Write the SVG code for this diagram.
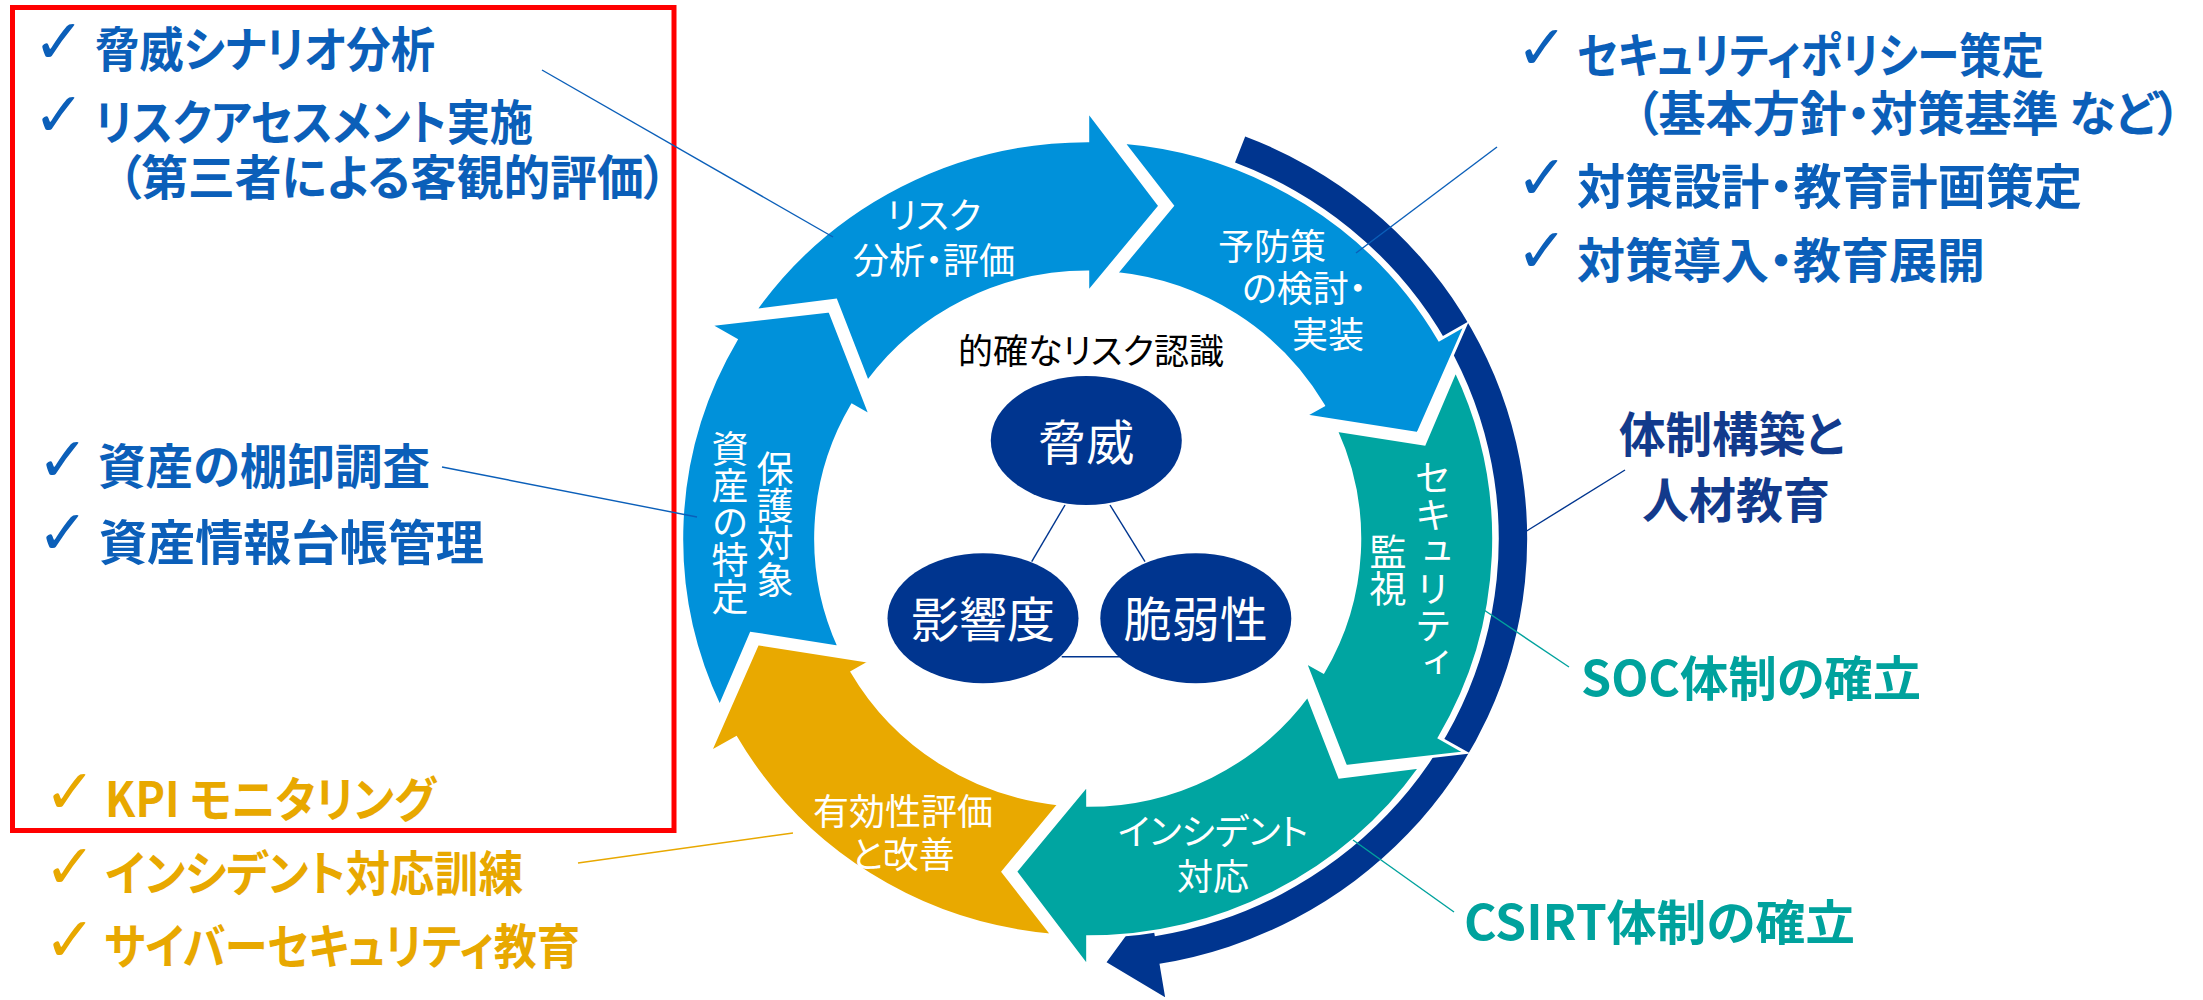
<svg xmlns="http://www.w3.org/2000/svg" width="2203" height="1000" viewBox="0 0 2203 1000">
<style>
text{font-family:"Noto Sans CJK JP","Noto Sans",sans-serif;font-feature-settings:"palt" 1;}
.b{font-weight:700;font-size:48px}
.blue{fill:#0B5FB9}
.gold{fill:#E8A800}
.teal{fill:#00A29D}
.navy{fill:#123A8C}
.ck{font-family:"DejaVu Sans",sans-serif;font-size:62px;font-weight:400;font-feature-settings:normal}
.rt{fill:#fff;font-size:36px}
.rv{fill:#fff;font-size:37px;writing-mode:vertical-rl}
.seg{stroke:#fff;stroke-width:3;stroke-linejoin:miter}
.lb{fill:#0091DA}.tl{fill:#00A5A1}.gd{fill:#E9A900}
.ell{fill:#00358F}
.et{fill:#fff;font-size:48px;text-anchor:middle}
.ln{stroke-width:1.4;fill:none}
</style>
<rect id="focus-box" x="12.5" y="7.5" width="661.5" height="823" fill="none" stroke="#FF0000" stroke-width="5"/>
<g id="ring" transform="translate(1087.7,538.7) scale(1.015,0.995)">
  <g id="org-arrow"><path fill="#00358F" d="M 145.14 -378.10 L 155.17 -404.24 A 433 433 0 0 1 70.72 427.18 L 76.28 460.73 L 18.58 425.60 L 60.76 367.0 L 66.15 399.56 A 405 405 0 0 0 145.14 -378.10 Z"/></g>
  <g id="seg-risk"><path class="seg lb" d="M -327.66 -229.43 A 400 400 0 0 1 0 -400 L 0 -430 L 71.11 -334.53 L 0 -247 L 0 -268 A 268 268 0 0 0 -216.82 -157.53 L -248.17 -239.66 Z"/></g>
  <g id="seg-prevent"><path class="seg lb" d="M 34.86 -398.48 A 400 400 0 0 1 346.41 -200 L 372.39 -215 L 325.26 -105.68 L 213.91 -123.5 L 232.10 -134 A 268 268 0 0 0 28.01 -266.53 L 83.46 -334.75 Z"/></g>
  <g id="seg-monitor"><path class="seg tl" d="M 362.52 -169.05 A 400 400 0 0 1 346.41 200 L 372.39 215 L 254.15 228.84 L 213.91 123.5 L 232.10 134 A 268 268 0 0 0 244.83 -109.01 L 331.63 -95.10 Z"/></g>
  <g id="seg-incident"><path class="seg tl" d="M 327.66 229.43 A 400 400 0 0 1 0 400 L 0 430 L -71.11 334.53 L 0 247 L 0 268 A 268 268 0 0 0 216.82 157.53 L 248.17 239.66 Z"/></g>
  <g id="seg-improve"><path class="seg gd" d="M -34.86 398.48 A 400 400 0 0 1 -346.41 200 L -372.39 215 L -325.26 105.68 L -213.91 123.5 L -232.10 134 A 268 268 0 0 0 -28.01 266.53 L -83.46 334.75 Z"/></g>
  <g id="seg-assets"><path class="seg lb" d="M -362.52 169.05 A 400 400 0 0 1 -346.41 -200 L -372.39 -215 L -254.15 -228.84 L -213.91 -123.5 L -232.10 -134 A 268 268 0 0 0 -244.83 109.01 L -331.63 95.10 Z"/></g>
</g>
<g id="ring-labels">
  <text class="rt" x="934" y="229" text-anchor="middle">リスク</text>
  <text class="rt" x="934" y="274" text-anchor="middle">分析・評価</text>
  <text class="rt" x="1218" y="260">予防策</text>
  <text class="rt" x="1242" y="302">の検討・</text>
  <text class="rt" x="1292" y="348">実装</text>
  <text class="rv" x="1433" y="459">セキュリティ</text>
  <text class="rv" x="1388" y="533">監視</text>
  <text class="rt" x="1213" y="845" text-anchor="middle">インシデント</text>
  <text class="rt" x="1213" y="890" text-anchor="middle">対応</text>
  <text class="rt" x="903" y="825" text-anchor="middle">有効性評価</text>
  <text class="rt" x="903" y="868" text-anchor="middle">と改善</text>
  <text class="rv" x="775" y="450">保護対象</text>
  <text class="rv" x="730" y="430">資産の特定</text>
</g>
<g id="connectors">
  <line class="ln" stroke="#00358F" stroke-width="3" x1="1065" y1="505" x2="1031.7" y2="561.7"/>
  <line class="ln" stroke="#00358F" stroke-width="3" x1="1110" y1="505" x2="1145" y2="561.7"/>
  <line class="ln" stroke="#00358F" stroke-width="3" x1="1061.7" y1="656.7" x2="1120" y2="656.7"/>
  <line class="ln" stroke="#0B5FB9" x1="542" y1="70" x2="833" y2="237"/>
  <line class="ln" stroke="#0B5FB9" x1="442" y1="467" x2="697" y2="517"/>
  <line class="ln" stroke="#E8A800" x1="578" y1="863" x2="793" y2="833"/>
  <line class="ln" stroke="#0B5FB9" x1="1497" y1="147" x2="1356" y2="253"/>
  <line class="ln" stroke="#00358F" x1="1625" y1="470" x2="1525" y2="532"/>
  <line class="ln" stroke="#00A29D" x1="1569" y1="667" x2="1484" y2="610"/>
  <line class="ln" stroke="#00A29D" x1="1454" y1="912" x2="1353" y2="840"/>
</g>
<g id="center">
  <text x="1091" y="364" font-size="35" text-anchor="middle" fill="#000">的確なリスク認識</text>
  <g id="threat"><ellipse class="ell" cx="1086.3" cy="440.5" rx="95.5" ry="64.5"/><text class="et" x="1086.3" y="460">脅威</text></g>
  <g id="impact"><ellipse class="ell" cx="983" cy="618.3" rx="95.5" ry="65"/><text class="et" x="983" y="637">影響度</text></g>
  <g id="vuln"><ellipse class="ell" cx="1195.8" cy="618.3" rx="95.5" ry="65"/><text class="et" x="1195.8" y="637">脆弱性</text></g>
</g>
<g id="left-items">
  <text class="ck blue" x="33" y="63">✓</text><text class="b blue" x="95" y="67" textLength="340" lengthAdjust="spacingAndGlyphs">脅威シナリオ分析</text>
  <text class="ck blue" x="33" y="136">✓</text><text class="b blue" x="95" y="140" textLength="438" lengthAdjust="spacingAndGlyphs">リスクアセスメント実施</text>
  <text class="b blue" x="118" y="195" textLength="549" lengthAdjust="spacingAndGlyphs">（第三者による客観的評価）</text>
  <text class="ck blue" x="37" y="481">✓</text><text class="b blue" x="98" y="484" textLength="332" lengthAdjust="spacingAndGlyphs">資産の棚卸調査</text>
  <text class="ck blue" x="37" y="554">✓</text><text class="b blue" x="99" y="560" textLength="385" lengthAdjust="spacingAndGlyphs">資産情報台帳管理</text>
  <text class="ck gold" x="44" y="813">✓</text><text class="b gold" x="105" y="817" textLength="331" lengthAdjust="spacingAndGlyphs">KPI モニタリング</text>
  <text class="ck gold" x="44" y="888">✓</text><text class="b gold" x="105" y="891" textLength="418" lengthAdjust="spacingAndGlyphs">インシデント対応訓練</text>
  <text class="ck gold" x="44" y="961">✓</text><text class="b gold" x="104" y="964" textLength="476" lengthAdjust="spacingAndGlyphs">サイバーセキュリティ教育</text>
</g>
<g id="right-items">
  <text class="ck blue" x="1516" y="69">✓</text><text class="b blue" x="1577" y="73" textLength="467" lengthAdjust="spacingAndGlyphs">セキュリティポリシー策定</text>
  <text class="b blue" x="1635" y="131" textLength="546" lengthAdjust="spacingAndGlyphs">（基本方針・対策基準 など）</text>
  <text class="ck blue" x="1516" y="199">✓</text><text class="b blue" x="1577" y="204" textLength="505" lengthAdjust="spacingAndGlyphs">対策設計・教育計画策定</text>
  <text class="ck blue" x="1516" y="272">✓</text><text class="b blue" x="1577" y="278" textLength="408" lengthAdjust="spacingAndGlyphs">対策導入・教育展開</text>
  <text class="b navy" x="1619" y="452" textLength="225" lengthAdjust="spacingAndGlyphs">体制構築と</text>
  <text class="b navy" x="1642" y="518" textLength="188" lengthAdjust="spacingAndGlyphs">人材教育</text>
  <text class="b teal" x="1581" y="696" textLength="340" lengthAdjust="spacingAndGlyphs">SOC体制の確立</text>
  <text class="b teal" x="1464" y="940" textLength="391" lengthAdjust="spacingAndGlyphs">CSIRT体制の確立</text>
</g>
</svg>
